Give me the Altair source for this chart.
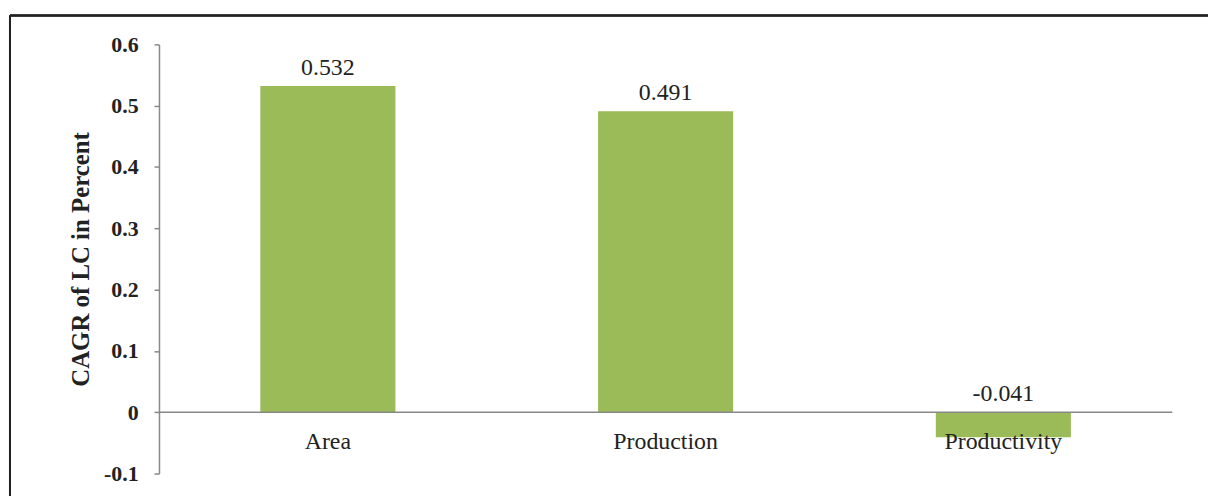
import altair as alt
import pandas as pd

categories = ["Area", "Production", "Productivity"]
values = [0.532, 0.491, -0.041]
value_labels = ["0.532", "0.491", "-0.041"]

df = pd.DataFrame({"cat": categories, "value": values, "label": value_labels})

FONT = "Liberation Serif"
GREEN = "#9bbb59"

base = alt.Chart(df)

x_enc = alt.X("cat:N", sort=categories,
              scale=alt.Scale(paddingInner=0.6, paddingOuter=0.3),
              axis=None)
y_scale = alt.Scale(domain=[-0.1, 0.6], nice=False, zero=False)

bars = base.mark_bar(color=GREEN).encode(
    x=x_enc,
    y=alt.Y("value:Q", scale=y_scale,
            axis=alt.Axis(values=[-0.1, 0, 0.1, 0.2, 0.3, 0.4, 0.5, 0.6],
                          labelExpr="'' + round(datum.value*10)/10",
                          title="CAGR of  LC in Percent",
                          titleFont=FONT, titleFontSize=25, titleFontWeight="bold",
                          titleColor="#222", titlePadding=10,
                          labelFont=FONT, labelFontSize=22, labelFontWeight="bold",
                          labelColor="#222", labelPadding=16,
                          domainColor="#888", domainWidth=1.5,
                          tickColor="#888", tickSize=5, tickWidth=1.5,
                          grid=False)),
    y2=alt.datum(0),
)

zero_line = alt.Chart(pd.DataFrame({"z": [0]})).mark_rule(color="#888", strokeWidth=1.5).encode(
    y=alt.Y("z:Q", scale=y_scale)
)

val_text = base.transform_calculate(pos="max(datum.value, 0)").mark_text(
    font=FONT, fontSize=24, color="#222", baseline="alphabetic", dy=-11
).encode(
    x=x_enc,
    y=alt.Y("pos:Q", scale=y_scale),
    text="label:N",
)

cat_text = base.transform_calculate(z="0").mark_text(
    font=FONT, fontSize=24, color="#222", baseline="alphabetic", dy=37
).encode(
    x=x_enc,
    y=alt.Y("z:Q", scale=y_scale),
    text="cat:N",
)

frame_top = alt.Chart(df).mark_rule(color="#222", strokeWidth=2).encode(
    x=alt.value(-150), x2=alt.value(1080), y=alt.value(-29)
)
frame_left = alt.Chart(df).mark_rule(color="#222", strokeWidth=2).encode(
    x=alt.value(-150), y=alt.value(-29), y2=alt.value(470)
)

chart = alt.layer(bars, zero_line, val_text, cat_text, frame_top, frame_left).properties(
    width=1020, height=432,
    autosize=alt.AutoSizeParams(type="none"),
    padding={"left": 152, "top": 35, "right": 36, "bottom": 21},
).configure_view(stroke=None)

chart.save("out.html", embed_options={"renderer": "svg", "actions": False})
